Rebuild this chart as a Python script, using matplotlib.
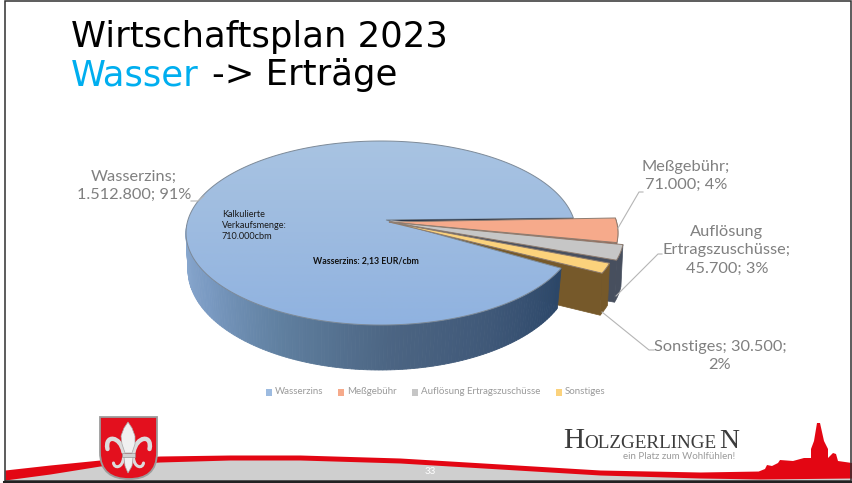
import numpy as np
import matplotlib
matplotlib.use("Agg")
import matplotlib.pyplot as plt
from matplotlib.colors import LinearSegmentedColormap
from matplotlib.patches import Polygon, Rectangle, PathPatch
from matplotlib.path import Path

categories = ["Wasserzins", "Meßgebühr", "Auflösung Ertragszuschüsse", "Sonstiges"]
values = [1512800, 71000, 45700, 30500]
percents = [91, 4, 3, 2]
unit_note = "Kalkulierte\nVerkaufsmenge:\n710.000cbm"
price_note = "Wasserzins: 2,13 EUR/cbm"

colors = ["#9dbbe0", "#f6aa8b", "#c6c6c6", "#fbd27c"]
side_colors = {"Meßgebühr": "#a0604a", "Auflösung Ertragszuschüsse": "#474f5e", "Sonstiges": "#76592a"}

# layout of the tilted pie, in picture pixels
TOP = dict(cx=381, cy=233, a=195, b=92)
BOTTOM = dict(cx=380, cy=270, a=192, b=100)
APEX = (386, 220)
DROP = 42
START_ANGLE = 9.4
SHIFTS = {"Meßgebühr": (42, 0), "Auflösung Ertragszuschüsse": (48, 2), "Sonstiges": (41, 5)}

LABEL_GREY = "#808080"
LABEL_FONT = "Lato"
RED = "#e30613"


def on_ellipse(e, deg):
    t = np.radians(deg)
    return np.column_stack([e["cx"] + e["a"] * np.cos(t), e["cy"] - e["b"] * np.sin(t)])


def dotted(v):
    return f"{v:,}".replace(",", ".")


fig = plt.figure(figsize=(8.52, 4.83), dpi=100)
ax = fig.add_axes([0, 0, 1, 1])
ax.set_xlim(0, 852)
ax.set_ylim(483, 0)
ax.axis("off")

# slice angles, going clockwise from the first small slice
spans = 360 * np.array(values) / sum(values)
small_ends = START_ANGLE - np.cumsum(spans[1:])
small_starts = np.r_[START_ANGLE, small_ends[:-1]]
main_start = small_ends[-1]
main_end = START_ANGLE - 360

# wall of the small slices, furthest first
wedges = list(zip(categories[1:], colors[1:], small_starts, small_ends))
for name, col, a0, a1 in wedges:
    dx, dy = SHIFTS[name]
    outer = on_ellipse(TOP, np.linspace(a0, a1, 12)) + [dx, dy]
    tip = np.array([[APEX[0] + 3, APEX[1] + 2]])
    rim = np.vstack([outer, outer[::-1] + [-2, DROP]])
    ax.add_patch(Polygon(rim, closed=True, fc=side_colors[name], ec=side_colors[name], lw=0.5, zorder=3))
    cut = np.vstack([outer[-1:], tip, tip + [0, DROP], outer[-1:] + [-2, DROP]])
    ax.add_patch(Polygon(cut, closed=True, fc=side_colors[name], ec=side_colors[name], lw=0.5, zorder=3))

# outer wall of the big slice
wall_cmap = LinearSegmentedColormap.from_list(
    "wall", ["#8fadd3", "#7a9ac2", "#5f7f9f", "#4c6583", "#3f5878", "#2c4769"])
wall_angles = np.linspace(175, 360 + main_start, 140)
for i in range(len(wall_angles) - 1):
    pair = wall_angles[i:i + 2]
    upper = on_ellipse(TOP, pair)
    lower = on_ellipse(BOTTOM, pair)
    c = wall_cmap(i / (len(wall_angles) - 2))
    ax.add_patch(Polygon(np.vstack([upper, lower[::-1]]), closed=True, fc=c, ec=c, lw=0.6, zorder=4))

# top of the big slice with a soft vertical gradient
arc = on_ellipse(TOP, np.linspace(main_start, main_end, 300))
main_top = Polygon(np.vstack([[APEX], arc]), closed=True, fc="none", ec="#7d8a98", lw=0.7, zorder=6)
ax.add_patch(main_top)
top_cmap = LinearSegmentedColormap.from_list("top", ["#a9c4e2", "#9dbbe0", "#8fb2e0"])
grad = ax.imshow(np.linspace(0, 1, 200).reshape(-1, 1), cmap=top_cmap, aspect="auto",
                 extent=(170, 600, 330, 135), zorder=5)
main_clip = Polygon(np.vstack([[APEX], arc]), closed=True, transform=ax.transData)
grad.set_clip_path(main_clip)
ax.set_xlim(0, 852)
ax.set_ylim(483, 0)

# dark cut under the top edge of the big slice
edge = on_ellipse(TOP, [START_ANGLE])[0]
ax.add_patch(Polygon([APEX, edge, edge + [0, 5], (APEX[0] + 60, APEX[1] + 4)], closed=True,
                     fc="#2a374c", ec="none", zorder=7))

# tops of the small slices
for name, col, a0, a1 in wedges:
    dx, dy = SHIFTS[name]
    outer = on_ellipse(TOP, np.linspace(a0, a1, 12)) + [dx, dy]
    ax.add_patch(Polygon(np.vstack([[(APEX[0] + 3, APEX[1] + 2)], outer]), closed=True, fc=col,
                         ec="#8d7c70", lw=0.7, zorder=8))

# data labels with leader lines
label_texts = [
    f"{categories[0]};\n{dotted(values[0])}; {percents[0]}%",
    f"{categories[1]};\n{dotted(values[1])}; {percents[1]}%",
    f"Auflösung\nErtragszuschüsse;\n{dotted(values[2])}; {percents[2]}%",
    f"{categories[3]}; {dotted(values[3])};\n{percents[3]}%",
]
label_pos = [(134, 186), (686, 176), (727, 250), (720, 356)]
for txt, (lx, ly) in zip(label_texts, label_pos):
    ax.text(lx, ly, txt, ha="center", va="center", fontsize=11.8, color=LABEL_GREY, family=LABEL_FONT,
            linespacing=1.4, zorder=10)

leaders = [
    [(191, 201), (198, 201), (204, 196)],
    [(643, 192), (639, 192), (618, 228)],
    [(662, 254), (658, 254), (616, 296)],
    [(654, 350), (649, 350), (602, 312)],
]
for pts in leaders:
    xs, ys = zip(*pts)
    ax.plot(xs, ys, color="#b5b5b5", lw=0.8, zorder=9)

# notes on the pie
ax.text(222, 225.5, unit_note, ha="left", va="center", fontsize=6.6, color="#1a1a1a", family=LABEL_FONT,
        linespacing=1.35, zorder=10)
ax.text(365.5, 261, price_note, ha="center", va="center", fontsize=6.3, color="#111111", family=LABEL_FONT,
        fontweight="bold", zorder=10)

# legend
legend_x = [266, 338, 412, 556]
for name, col, lx in zip(categories, colors, legend_x):
    ax.add_patch(Rectangle((lx, 389), 6, 6.5, fc=col, ec="none", zorder=10))
    ax.text(lx + 9, 392, name, ha="left", va="center", fontsize=7, color="#9a9a9a", family=LABEL_FONT, zorder=10)

# title
ax.text(71, 46.5, "Wirtschaftsplan 2023", fontsize=25.5, color="black", ha="left", va="baseline")
ax.text(71, 85, "Wasser", fontsize=25.5, color="#00aeef", ha="left", va="baseline")
ax.text(212, 85, "-> Erträge", fontsize=25.5, color="black", ha="left", va="baseline")

# footer swoosh
sw_x = np.array([5, 50, 100, 160, 230, 300, 400, 500, 600, 700, 760, 852])
sw_top = np.array([470, 465, 460, 456, 455, 455, 458, 464, 470, 472, 471, 471])
sw_low = np.array([480, 474, 466, 462, 460, 460, 463, 469, 475, 478, 479, 478])
ax.fill_between(sw_x, sw_low - 1, 481, color="#cfcfcf", lw=0, zorder=1)
ax.fill_between(sw_x, sw_top, sw_low, color=RED, lw=0, zorder=2)

# town silhouette
town = [(756, 474), (760, 471), (765, 469), (767, 465), (772, 466), (778, 463), (780, 460), (793, 461), (804, 458),
        (811, 458), (811, 449), (814, 441), (817, 423), (820, 423), (824, 441), (828, 449), (828, 458), (830, 456),
        (833, 453), (836, 454), (838, 461), (852, 463), (852, 478), (756, 478)]
ax.add_patch(Polygon(town, closed=True, fc=RED, ec="none", zorder=3))

# coat of arms
shield = Path([(100, 417), (157, 417), (157, 452), (157, 472), (146, 479), (129, 479), (112, 479), (100, 472),
               (100, 452), (100, 417)],
              [Path.MOVETO, Path.LINETO, Path.LINETO, Path.CURVE4, Path.CURVE4, Path.CURVE4, Path.CURVE4, Path.CURVE4,
               Path.CURVE4, Path.CLOSEPOLY])
ax.add_patch(PathPatch(shield, fc="#e3101e", ec="#9c9c9c", lw=1.3, zorder=5))
petal = [(128, 422), (124, 428), (121, 436), (122, 444), (125, 453), (132, 453), (135, 444), (135, 436), (132, 428)]
ax.add_patch(Polygon(petal, closed=True, fc="#f0f0f0", ec="#a8a8a8", lw=0.5, zorder=7))
tail = [(124, 457), (133, 457), (132, 466), (128, 473), (125, 466)]
ax.add_patch(Polygon(tail, closed=True, fc="#f0f0f0", ec="#a8a8a8", lw=0.5, zorder=7))
curl_codes = [Path.MOVETO, Path.CURVE4, Path.CURVE4, Path.CURVE4]
for sign in (-1, 1):
    arm = Path([(128.5 + sign * 5, 452), (128.5 + sign * 8, 436), (128.5 + sign * 24, 434), (128.5 + sign * 21, 449)],
               curl_codes)
    foot = Path([(128.5 + sign * 5, 458), (128.5 + sign * 6, 468), (128.5 + sign * 14, 469), (128.5 + sign * 15, 463)],
                curl_codes)
    ax.add_patch(PathPatch(arm, fc="none", ec="#dcdcdc", lw=3.2, capstyle="round", zorder=6))
    ax.add_patch(PathPatch(foot, fc="none", ec="#dcdcdc", lw=2.2, capstyle="round", zorder=6))
ax.add_patch(Rectangle((122, 453), 13, 4, fc="#d0d0d0", ec="#8d8d8d", lw=0.4, zorder=8))

# logo text
ax.text(563, 447.5, "H", family="Liberation Serif", fontsize=21, color="#3c3c3c", va="baseline", ha="left")
ax.text(584, 447.5, "OLZGERLINGE", family="Liberation Serif", fontsize=13.8, color="#3c3c3c", va="baseline", ha="left")
ax.text(719, 447.5, "N", family="Liberation Serif", fontsize=20, color="#3c3c3c", va="baseline", ha="left")
ax.text(735, 456.5, "ein Platz zum Wohlfühlen!", fontsize=7, color="#9a9a9a", family=LABEL_FONT, ha="right", va="center")

ax.text(430, 472, "33", fontsize=7, color="white", ha="center", va="center", family=LABEL_FONT, zorder=6)

# slide frame
ax.add_patch(Rectangle((4.5, 1), 846.5, 480, fc="none", ec="#303030", lw=1.1, zorder=12))
ax.plot([4, 851], [482, 482], color="#222222", lw=2.2, zorder=12)

fig.savefig("out.png", dpi=100)
